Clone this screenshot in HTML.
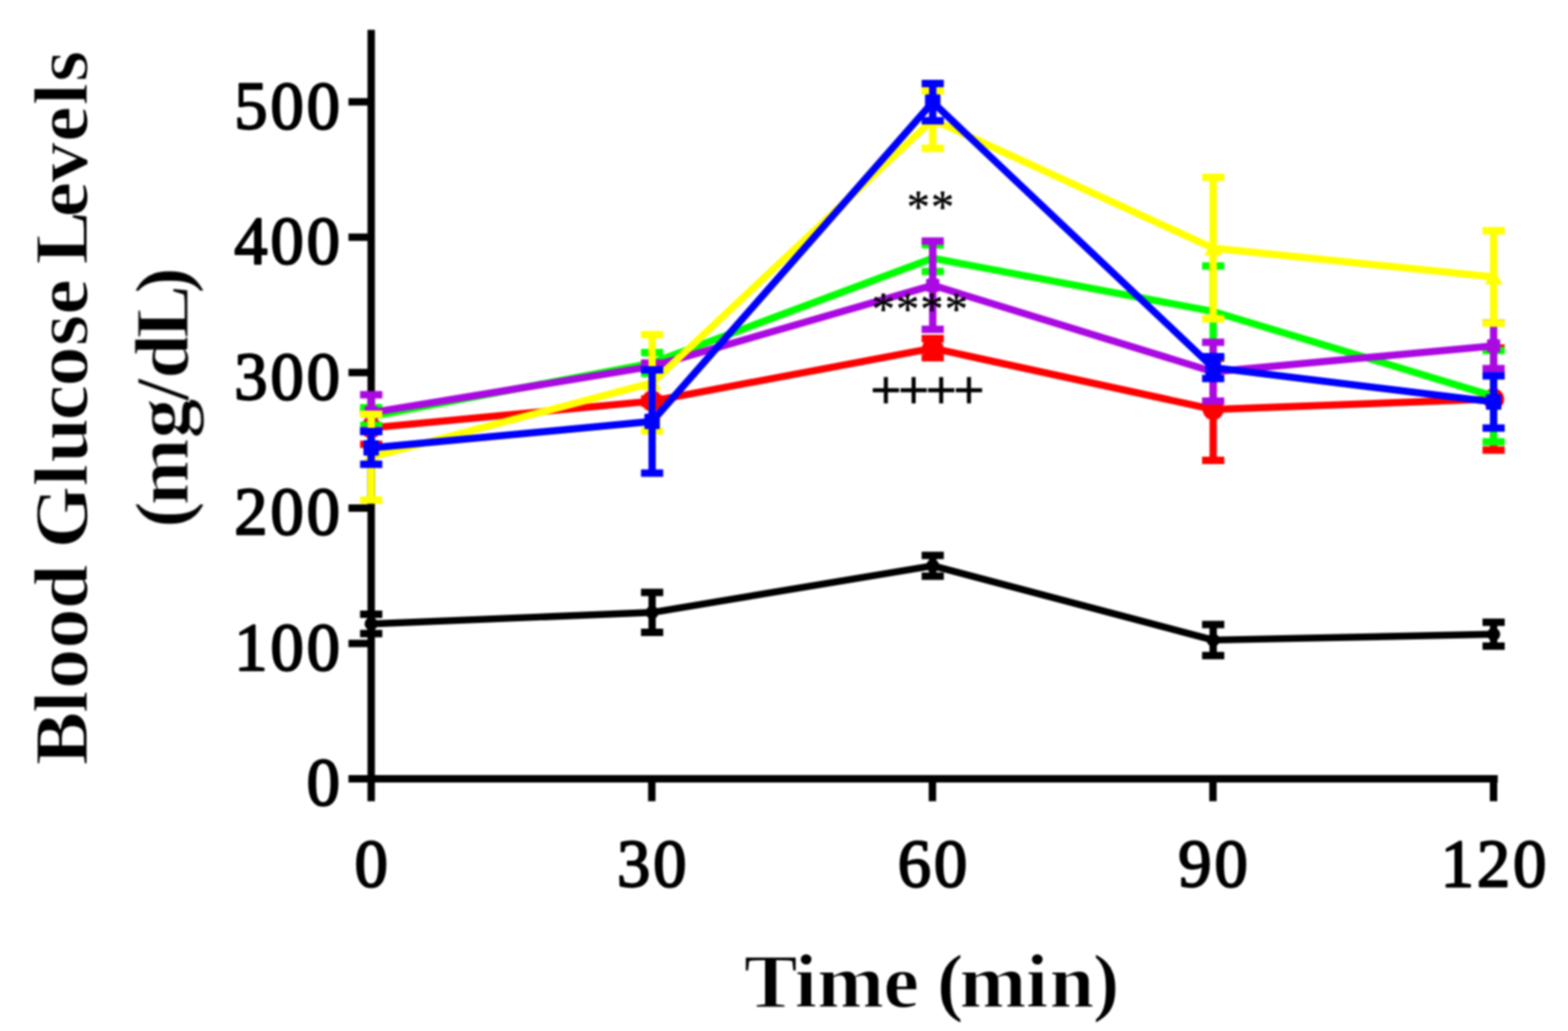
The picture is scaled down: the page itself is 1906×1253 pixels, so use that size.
<!DOCTYPE html>
<html lang="en"><head><meta charset="utf-8"><title>Blood Glucose Levels</title>
<style>html,body{margin:0;padding:0;background:#fff;}body{width:1906px;height:1253px;overflow:hidden;}svg{display:block;}</style>
</head><body>
<svg width="1906" height="1253" viewBox="0 0 1906 1253">
<rect width="1906" height="1253" fill="#fff"/>
<defs><filter id="soft" filterUnits="userSpaceOnUse" x="0" y="0" width="1906" height="1253" color-interpolation-filters="sRGB"><feGaussianBlur stdDeviation="0.8"/></filter></defs>
<g filter="url(#soft)">
<g id="axes" stroke="#000" fill="none">
<path d="M451.2 36.3V973.7" stroke-width="9"/>
<path d="M423.6 946.5H1820.6" stroke-width="9"/>
<path d="M423.6 781.94H451.2M423.6 617.38H451.2M423.6 452.82H451.2M423.6 288.26H451.2M423.6 123.7H451.2" stroke-width="9"/>
<path d="M792.3 946.5V973.7M1133.4 946.5V973.7M1474.4 946.5V973.7M1815.5 946.5V973.7" stroke-width="9"/>
</g>
<g id="s-black" stroke="#000000" fill="#000000">
<polyline points="451.2,758.2 792.7,744.3 1133.8,687.6 1474.7,777.9 1815.6,770.8" fill="none" stroke-width="8.4" stroke-linejoin="round"/>
<path d="M451.2 746.4V770M792.7 720V768.6M1133.8 675V700.2M1474.7 759V796.8M1815.6 756.3V785.3" fill="none" stroke-width="8.9"/>
<path d="M437.7 746.4H464.7M437.7 770H464.7M779.2 720H806.2M779.2 768.6H806.2M1120.3 675H1147.3M1120.3 700.2H1147.3M1461.2 759H1488.2M1461.2 796.8H1488.2M1802.1 756.3H1829.1M1802.1 785.3H1829.1" fill="none" stroke-width="9"/>
<circle cx="451.2" cy="758.2" r="8" stroke="none"/>
<circle cx="792.7" cy="744.3" r="8" stroke="none"/>
<circle cx="1133.8" cy="687.6" r="8" stroke="none"/>
<circle cx="1474.7" cy="777.9" r="8" stroke="none"/>
<circle cx="1815.6" cy="770.8" r="8" stroke="none"/>
</g>
<g id="s-red" stroke="#ff0000" fill="#ff0000">
<polyline points="451.2,520 792.7,487.5 1133.8,423.2 1474.7,497.6 1815.6,485" fill="none" stroke-width="8.7" stroke-linejoin="round"/>
<path d="M451.2 500V540M792.7 485V490M1133.8 411.6V434.8M1474.7 435.6V559.6M1815.6 423V547" fill="none" stroke-width="8.9"/>
<path d="M437.7 500H464.7M437.7 540H464.7M779.2 485H806.2M779.2 490H806.2M1120.3 411.6H1147.3M1120.3 434.8H1147.3M1461.2 435.6H1488.2M1461.2 559.6H1488.2M1802.1 423H1829.1M1802.1 547H1829.1" fill="none" stroke-width="9"/>
<circle cx="451.2" cy="520" r="12.9" stroke="none"/>
<circle cx="792.7" cy="487.5" r="12.9" stroke="none"/>
<circle cx="1133.8" cy="423.2" r="12.9" stroke="none"/>
<circle cx="1474.7" cy="497.6" r="12.9" stroke="none"/>
<circle cx="1815.6" cy="485" r="12.9" stroke="none"/>
</g>
<g id="s-green" stroke="#00ff00" fill="#00ff00">
<polyline points="451.2,506.2 792.7,441.2 1133.8,313.8 1474.7,378.6 1815.6,481.5" fill="none" stroke-width="8.7" stroke-linejoin="round"/>
<path d="M451.2 495.4V517M792.7 428.6V453.8M1133.8 297.6V330M1474.7 323.2V434M1815.6 426V537" fill="none" stroke-width="8.9"/>
<path d="M437.7 495.4H464.7M437.7 517H464.7M779.2 428.6H806.2M779.2 453.8H806.2M1120.3 297.6H1147.3M1120.3 330H1147.3M1461.2 323.2H1488.2M1461.2 434H1488.2M1802.1 426H1829.1M1802.1 537H1829.1" fill="none" stroke-width="9"/>
<circle cx="451.2" cy="506.2" r="4.5" stroke="none"/>
<circle cx="792.7" cy="441.2" r="4.5" stroke="none"/>
<circle cx="1133.8" cy="313.8" r="4.5" stroke="none"/>
<circle cx="1474.7" cy="378.6" r="4.5" stroke="none"/>
<circle cx="1815.6" cy="481.5" r="4.5" stroke="none"/>
</g>
<g id="s-purple" stroke="#aa09e2" fill="#aa09e2">
<polyline points="451.2,501.5 792.7,445.3 1133.8,346.7 1474.7,451.8 1815.6,420.3" fill="none" stroke-width="8.7" stroke-linejoin="round"/>
<path d="M451.2 479.8V523.2M792.7 441.3V449.3M1133.8 293.1V400.3M1474.7 416V487.6M1815.6 392.5V448.1" fill="none" stroke-width="8.9"/>
<path d="M437.7 479.8H464.7M437.7 523.2H464.7M779.2 441.3H806.2M779.2 449.3H806.2M1120.3 293.1H1147.3M1120.3 400.3H1147.3M1461.2 416H1488.2M1461.2 487.6H1488.2M1802.1 392.5H1829.1M1802.1 448.1H1829.1" fill="none" stroke-width="9"/>
<rect x="443.2" y="493.5" width="16" height="16" rx="1.5" stroke="none"/>
<rect x="784.7" y="437.3" width="16" height="16" rx="1.5" stroke="none"/>
<rect x="1125.8" y="338.7" width="16" height="16" rx="1.5" stroke="none"/>
<rect x="1466.7" y="443.8" width="16" height="16" rx="1.5" stroke="none"/>
<rect x="1807.6" y="412.3" width="16" height="16" rx="1.5" stroke="none"/>
</g>
<g id="s-yellow" stroke="#ffff00" fill="#ffff00">
<polyline points="451.2,555.6 792.7,465.3 1133.8,145.4 1474.7,301.6 1815.6,336.6" fill="none" stroke-width="8.7" stroke-linejoin="round"/>
<path d="M451.2 503.5V607.7M792.7 406.8V523.8M1133.8 110.5V180.3M1474.7 215.6V387.6M1815.6 280.4V392.8" fill="none" stroke-width="8.9"/>
<path d="M437.7 503.5H464.7M437.7 607.7H464.7M779.2 406.8H806.2M779.2 523.8H806.2M1120.3 110.5H1147.3M1120.3 180.3H1147.3M1461.2 215.6H1488.2M1461.2 387.6H1488.2M1802.1 280.4H1829.1M1802.1 392.8H1829.1" fill="none" stroke-width="9"/>
<path d="M451.2 544.37L461.9 564.8H440.5Z" stroke="none"/>
<path d="M792.7 454.06L803.4 474.5H782Z" stroke="none"/>
<path d="M1133.8 134.17L1144.5 154.6H1123.1Z" stroke="none"/>
<path d="M1474.7 290.37L1485.4 310.8H1464Z" stroke="none"/>
<path d="M1815.6 325.37L1826.3 345.8H1804.9Z" stroke="none"/>
</g>
<g id="s-blue" stroke="#0000ff" fill="#0000ff">
<polyline points="451.2,544.4 792.7,512.2 1133.8,124.2 1474.7,446.8 1815.6,488.5" fill="none" stroke-width="8.7" stroke-linejoin="round"/>
<path d="M451.2 524.6V564.2M792.7 449.4V575M1133.8 101.6V146.8M1474.7 433.6V460M1815.6 456.7V520.3" fill="none" stroke-width="8.9"/>
<path d="M437.7 524.6H464.7M437.7 564.2H464.7M779.2 449.4H806.2M779.2 575H806.2M1120.3 101.6H1147.3M1120.3 146.8H1147.3M1461.2 433.6H1488.2M1461.2 460H1488.2M1802.1 456.7H1829.1M1802.1 520.3H1829.1" fill="none" stroke-width="9"/>
<rect x="441.8" y="535" width="18.8" height="18.8" rx="1.5" stroke="none"/>
<rect x="783.3" y="502.8" width="18.8" height="18.8" rx="1.5" stroke="none"/>
<rect x="1124.4" y="114.8" width="18.8" height="18.8" rx="1.5" stroke="none"/>
<rect x="1465.3" y="437.4" width="18.8" height="18.8" rx="1.5" stroke="none"/>
<rect x="1806.2" y="479.1" width="18.8" height="18.8" rx="1.5" stroke="none"/>
</g>
<g id="ylabels" font-family="'Liberation Serif','DejaVu Serif',serif" font-size="82.6" fill="#000" text-anchor="middle" stroke="#000" stroke-width="2.4" stroke-linejoin="round">
<text transform="translate(0 978.4) scale(0.98 1)" x="401.02" y="0">0</text>
<text transform="translate(0 813.84) scale(0.98 1)" x="311.22 356.12 401.02" y="0">100</text>
<text transform="translate(0 649.28) scale(0.98 1)" x="311.22 356.12 401.02" y="0">200</text>
<text transform="translate(0 484.72) scale(0.98 1)" x="311.22 356.12 401.02" y="0">300</text>
<text transform="translate(0 320.16) scale(0.98 1)" x="311.22 356.12 401.02" y="0">400</text>
<text transform="translate(0 155.6) scale(0.98 1)" x="311.22 356.12 401.02" y="0">500</text>
</g>
<g id="xlabels" font-family="'Liberation Serif','DejaVu Serif',serif" font-size="82.6" fill="#000" text-anchor="middle" stroke="#000" stroke-width="2.4" stroke-linejoin="round">
<text transform="translate(0 1077.2) scale(0.98 1)" x="460.41" y="0">0</text>
<text transform="translate(0 1077.2) scale(0.98 1)" x="786.02 830.92" y="0">30</text>
<text transform="translate(0 1077.2) scale(0.98 1)" x="1134.08 1178.98" y="0">60</text>
<text transform="translate(0 1077.2) scale(0.98 1)" x="1482.04 1526.94" y="0">90</text>
<text transform="translate(0 1077.2) scale(0.98 1)" x="1807.65 1852.55 1897.45" y="0">120</text>
</g>
<g id="titles" font-family="'Liberation Serif','DejaVu Serif',serif" font-weight="bold" font-size="94" fill="#000" stroke="#fff" stroke-width="1.5">
<text transform="translate(900 1224.4) scale(1.04 1)" x="4.01 63.39 89.7 167.02 198.3 229.58 256.05 333.58 361.29 411.76" y="0">Time (min)</text>
<text transform="translate(106 930) rotate(-90) scale(1.04 1)" x="-0.09 61 89.05 136.26 182.26 217.81 253.35 325.8 353.48 402.82 442.37 489.9 526.39 555.7 585 640.19 680.92 728.32 771 798.5" y="0">Blood Glucose Levels</text>
<text transform="translate(228.5 640) rotate(-90) scale(1.04 1)" x="-1.67 24.8 103 147.03 172.6 219.81 272.05" y="0">(mg/dL)</text>
</g>
<g id="annot" font-family="'Liberation Serif','DejaVu Serif',serif" fill="#000" text-anchor="middle">
<text x="1102.23 1131.83" y="271.11" font-size="56" text-anchor="start" stroke="#000" stroke-width="0.5">**</text>
<text x="1059.63 1089.23 1118.83 1148.43" y="395.21" font-size="56" text-anchor="start" stroke="#000" stroke-width="0.5">****</text>
<text x="1127.3" y="496.1" font-size="65" textLength="137.6" lengthAdjust="spacing" stroke="#000" stroke-width="1.7">++++</text>
</g>
</g>
</svg>
</body></html>
